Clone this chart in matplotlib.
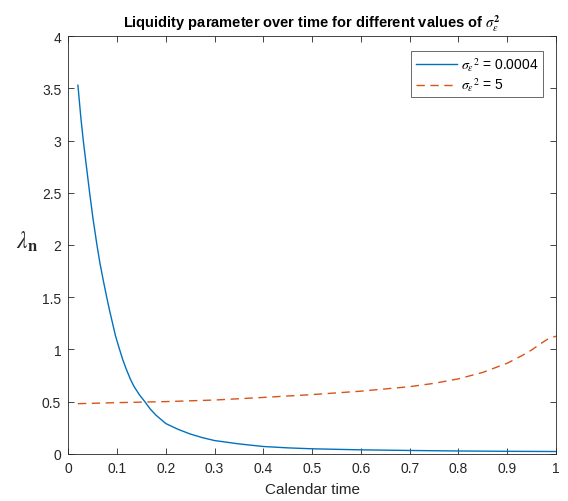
import matplotlib
matplotlib.use("Agg")
import matplotlib.pyplot as plt

# data
t_small = [0.02, 0.026, 0.031, 0.038, 0.044, 0.051, 0.059, 0.065, 0.072, 0.079,
           0.085, 0.091, 0.097, 0.104, 0.112, 0.12, 0.128, 0.135, 0.146, 0.157, 0.168,
           0.18, 0.19, 0.2, 0.225, 0.25, 0.275, 0.3, 0.35, 0.4, 0.45, 0.5, 0.6, 0.7,
           0.8, 0.9, 1.0]
lam_small = [3.53, 3.22, 3.0, 2.73, 2.5, 2.25, 2.0, 1.83, 1.66, 1.5,
             1.37, 1.25, 1.13, 1.02, 0.9, 0.8, 0.71, 0.645, 0.565, 0.5, 0.43,
             0.37, 0.33, 0.29, 0.235, 0.19, 0.155, 0.127, 0.095, 0.07, 0.057, 0.048, 0.038, 0.032,
             0.027, 0.024, 0.022]

t_big = [0.02, 0.1, 0.2, 0.3, 0.4, 0.5, 0.6, 0.7, 0.75, 0.8, 0.85, 0.9, 0.93, 0.95, 0.97, 0.985, 1.0]
lam_big = [0.48, 0.49, 0.50, 0.515, 0.54, 0.567, 0.60, 0.643, 0.675, 0.718, 0.78, 0.868, 0.94,
           0.995, 1.06, 1.105, 1.126]

labels = [r'$\sigma_{\epsilon}{}^{2}$ = 0.0004', r'$\sigma_{\epsilon}{}^{2}$ = 5']
xticks = [0, 0.1, 0.2, 0.3, 0.4, 0.5, 0.6, 0.7, 0.8, 0.9, 1]
xtick_labels = ['0', '0.1', '0.2', '0.3', '0.4', '0.5', '0.6', '0.7', '0.8', '0.9', '1']
yticks = [0, 0.5, 1, 1.5, 2, 2.5, 3, 3.5, 4]
ytick_labels = ['0', '0.5', '1', '1.5', '2', '2.5', '3', '3.5', '4']

plt.rcParams['font.family'] = ['Liberation Sans', 'DejaVu Sans']
plt.rcParams['mathtext.fontset'] = 'stix'

fig = plt.figure(figsize=(5.68, 5.02), dpi=100)
ax = fig.add_axes([0.120, 0.094, 0.859, 0.832])

ax.plot(t_small, lam_small, color='#0072BD', lw=1.0, label=labels[0])
ax.plot(t_big, lam_big, color='#D95319', lw=1.0, ls=(0, (6, 4)), label=labels[1])

ax.set_xlim(0, 1)
ax.set_ylim(0, 4)
ax.set_xticks(xticks)
ax.set_xticklabels(xtick_labels)
ax.set_yticks(yticks)
ax.set_yticklabels(ytick_labels)
ax.tick_params(direction='in', top=True, right=True, length=4, width=0.6,
               labelsize=10, colors='#262626', pad=5)
for s in ax.spines.values():
    s.set_color('#262626')
    s.set_linewidth(0.6)

ax.set_xlabel('Calendar time', fontsize=11, color='#262626', labelpad=5)
ax.set_ylabel(r'$\lambda_{\mathbf{n}}$', fontsize=17, rotation=0, color='#262626')
ax.yaxis.set_label_coords(-0.085, 0.48)
ax.set_title(r'Liquidity parameter over time for different values of $\sigma_{\epsilon}^{\mathbf{2}}$',
             fontsize=10.5, fontweight='bold', pad=7)

leg = ax.legend(loc='upper right', bbox_to_anchor=(0.973, 0.964), borderaxespad=0,
                fontsize=10, frameon=True, fancybox=False, edgecolor='#262626',
                handlelength=3.0, borderpad=0.3, labelspacing=0.2, handletextpad=0.3)
leg.get_frame().set_linewidth(0.6)

fig.savefig('out.png', dpi=100)
